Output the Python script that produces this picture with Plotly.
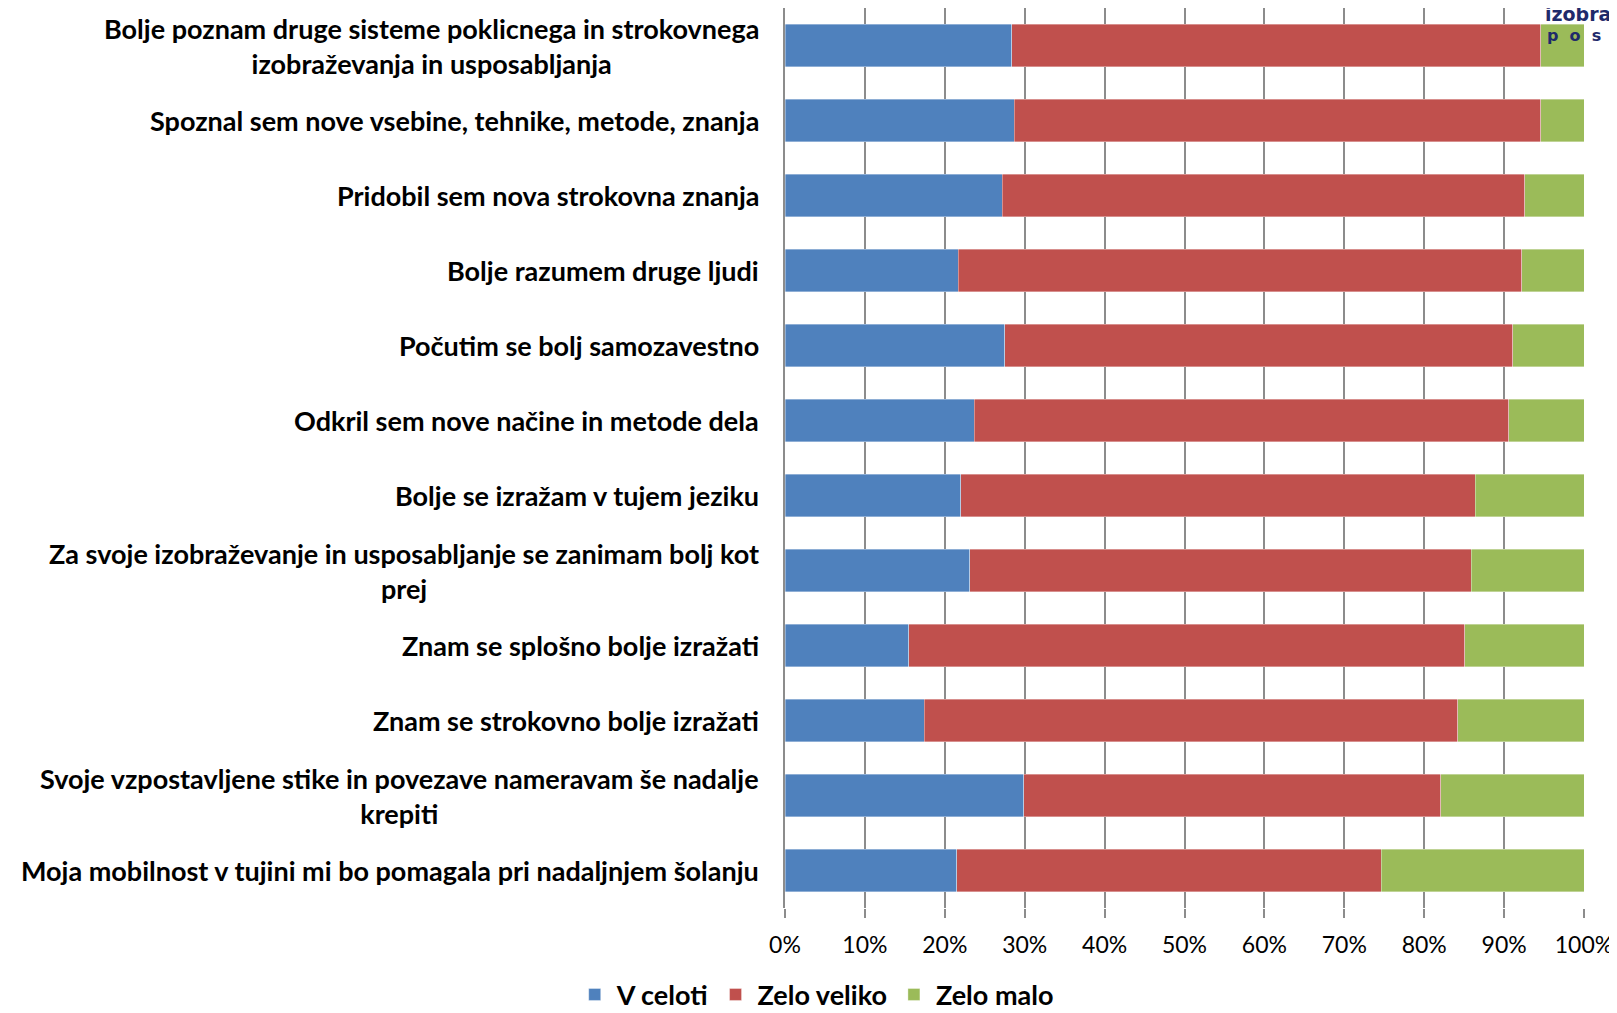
import plotly.graph_objects as go

categories = [
    "Bolje poznam druge sisteme poklicnega in strokovnega<br>izobraževanja in usposabljanja",
    "Spoznal sem nove vsebine, tehnike, metode, znanja",
    "Pridobil sem nova strokovna znanja",
    "Bolje razumem druge ljudi",
    "Počutim se bolj samozavestno",
    "Odkril sem nove načine in metode dela",
    "Bolje se izražam v tujem jeziku",
    "Za svoje izobraževanje in usposabljanje se zanimam bolj kot<br>prej",
    "Znam se splošno bolje izražati",
    "Znam se strokovno bolje izražati",
    "Svoje vzpostavljene stike in povezave nameravam še nadalje<br>krepiti",
    "Moja mobilnost v tujini mi bo pomagala pri nadaljnjem šolanju",
]
v_celoti = [28.4, 28.7, 27.2, 21.7, 27.5, 23.7, 22.0, 23.1, 15.5, 17.4, 29.9, 21.5]
zelo_veliko = [66.2, 65.9, 65.4, 70.5, 63.6, 66.9, 64.4, 62.8, 69.6, 66.8, 52.2, 53.1]
zelo_malo = [5.4, 5.4, 7.4, 7.8, 8.9, 9.4, 13.6, 14.1, 14.9, 15.8, 17.9, 25.4]

series = [
    ("V celoti", v_celoti, "#4F81BD"),
    ("Zelo veliko", zelo_veliko, "#C0504D"),
    ("Zelo malo", zelo_malo, "#9BBB59"),
]
tick_vals = [0, 10, 20, 30, 40, 50, 60, 70, 80, 90, 100]
tick_text = [f"{v}%" for v in tick_vals]

FONT = "Lato"

fig = go.Figure()
for name, vals, color in series:
    fig.add_trace(go.Bar(
        y=categories, x=vals, name=name, orientation="h",
        marker=dict(color=color, line=dict(width=0.6, color="rgba(255,255,255,0.6)")),
        hoverinfo="x+name",
    ))

for cat in categories:
    fig.add_annotation(
        x=0, xref="paper", xshift=-24, y=cat, yref="y",
        text=cat, showarrow=False, xanchor="right", yanchor="middle", align="center",
        font=dict(family=FONT, size=27, color="#000000", weight="bold"),
    )

# clipped overlapping element at the top-right corner of the original slide
fig.add_annotation(x=1, xref="paper", xshift=-41, y=1, yref="paper", yshift=-6,
                   text="izobra", showarrow=False, xanchor="left", yanchor="middle",
                   font=dict(family="DejaVu Sans", size=19, color="#1F2A6B", weight="bold"))
fig.add_annotation(x=1, xref="paper", xshift=-39, y=1, yref="paper", yshift=-27,
                   text="p&nbsp;&nbsp;o&nbsp;&nbsp;s", showarrow=False, xanchor="left", yanchor="middle",
                   font=dict(family="DejaVu Sans", size=16, color="#1F2A6B", weight="bold"))

fig.update_layout(
    width=1609, height=1005,
    barmode="stack", bargap=0.43,
    margin=dict(l=777, r=33, t=0, b=105, autoexpand=False),
    paper_bgcolor="white", plot_bgcolor="white",
    font=dict(family=FONT, color="#000000"),
    showlegend=True,
    legend=dict(orientation="h", xref="container", yref="container", x=0.502, y=0.018,
                xanchor="center", yanchor="middle",
                font=dict(family=FONT, size=27, color="#000000", weight="bold"),
                itemwidth=34, tracegroupgap=0, traceorder="normal"),
    xaxis=dict(range=[0, 100], tickvals=tick_vals, ticktext=tick_text,
               showgrid=True, gridcolor="#8C8C8C", gridwidth=1.5,
               ticks="outside", ticklen=9, tickcolor="#8C8C8C", tickwidth=1.5,
               ticklabelstandoff=7,
               tickfont=dict(family=FONT, size=23, color="#000000"),
               zeroline=False, showline=False, fixedrange=True),
    yaxis=dict(autorange="reversed", showticklabels=False, ticks="",
               showline=True, linecolor="#8C8C8C", linewidth=1.5,
               showgrid=False, fixedrange=True),
)

fig.write_html("out.html")
